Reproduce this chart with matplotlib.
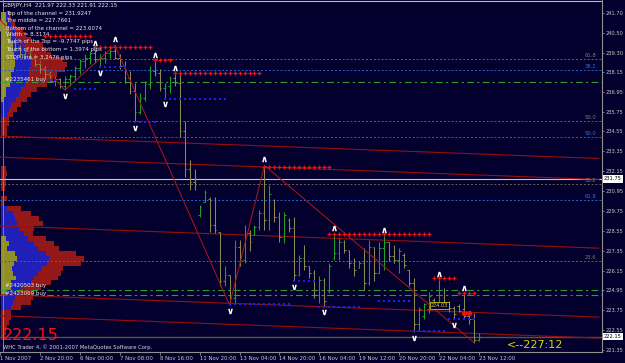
import numpy as np
import matplotlib
matplotlib.use('Agg')
import matplotlib.pyplot as plt

# GBPJPY H4 bars (bar index 0 = 1 Nov 2007 16:00)
opens = [241.00, 240.80, 240.40, 240.00, 239.60, 239.20, 239.40, 239.00, 238.60, 238.30,
         238.00, 237.60, 237.70, 237.30, 237.70, 237.90, 238.40, 238.80, 239.00, 239.30,
         238.90, 239.00, 239.30, 239.40, 239.00, 238.50, 237.80, 237.00, 235.70, 236.60,
         237.40, 238.20, 238.10, 237.20, 237.30, 237.80, 237.50, 234.60, 232.30, 231.50,
         229.50, 230.30, 230.50, 228.90, 228.50, 225.50, 225.90, 224.50, 227.60, 226.80,
         228.40, 228.30, 228.80, 229.60, 229.20, 230.40, 229.40, 228.20, 229.20, 228.70,
         225.90, 226.90, 226.40, 226.00, 224.70, 225.60, 224.90, 226.90, 227.20, 227.90,
         227.40, 226.60, 226.30, 226.60, 225.40, 227.60, 226.00, 227.50, 227.90, 227.00,
         226.80, 227.10, 226.20, 225.40, 222.90, 223.40, 223.80, 224.40, 224.00, 224.20,
         224.00, 223.90, 224.00, 223.80, 223.40, 223.20, 221.95]
highs = [241.30, 241.00, 240.60, 240.20, 239.80, 239.50, 239.60, 239.20, 238.80, 238.50,
         238.20, 237.90, 237.80, 237.90, 238.00, 238.50, 238.90, 239.20, 239.40, 239.55,
         239.20, 239.40, 239.60, 239.75, 239.20, 238.80, 238.20, 237.50, 236.90, 237.60,
         238.50, 238.80, 238.30, 237.50, 237.90, 238.00, 238.00, 235.20, 232.80, 232.30,
         230.10, 231.00, 230.60, 230.60, 228.50, 226.40, 225.90, 228.00, 228.00, 228.90,
         228.60, 228.90, 229.80, 232.50, 231.30, 230.50, 229.70, 229.70, 229.30, 229.40,
         227.10, 227.70, 226.40, 226.20, 225.80, 225.70, 226.60, 228.35, 228.10, 228.00,
         227.40, 226.90, 226.70, 227.50, 228.00, 227.60, 227.90, 228.25, 227.90, 227.70,
         227.50, 227.20, 226.20, 225.70, 223.95, 224.20, 224.85, 224.50, 225.60, 225.10,
         224.30, 224.00, 224.10, 224.75, 223.60, 223.60, 222.40]
lows = [240.60, 240.20, 239.80, 239.40, 239.00, 238.90, 238.90, 238.50, 238.10, 237.80,
        237.60, 237.30, 237.20, 237.05, 237.30, 237.60, 238.00, 238.40, 238.60, 238.70,
        238.45, 238.70, 239.00, 238.90, 238.30, 237.50, 236.80, 235.10, 235.60, 236.40,
        237.10, 237.90, 237.00, 236.55, 236.90, 237.30, 234.20, 231.80, 231.00, 231.00,
        229.40, 230.30, 228.50, 228.40, 225.20, 225.20, 224.07, 224.20, 226.40, 226.60,
        227.30, 228.30, 228.60, 228.60, 228.60, 229.10, 227.90, 227.80, 228.50, 225.50,
        225.80, 226.20, 225.70, 224.50, 224.20, 224.00, 224.80, 226.80, 226.80, 227.20,
        226.30, 225.80, 226.30, 225.00, 225.30, 225.50, 226.00, 226.20, 226.70, 226.60,
        226.00, 226.30, 225.20, 222.45, 222.50, 223.20, 223.60, 223.80, 223.90, 223.80,
        223.65, 223.20, 223.65, 223.20, 222.95, 221.80, 221.90]
closes = [240.80, 240.40, 240.00, 239.60, 239.20, 239.40, 239.00, 238.60, 238.30, 238.00,
          237.60, 237.70, 237.30, 237.70, 237.90, 238.40, 238.80, 239.00, 239.30, 238.90,
          239.00, 239.30, 239.40, 239.00, 238.50, 237.80, 237.00, 235.70, 236.60, 237.40,
          238.20, 238.10, 237.20, 237.30, 237.80, 237.50, 234.60, 232.30, 231.50, 231.40,
          230.00, 230.90, 228.90, 228.60, 225.50, 225.90, 224.50, 227.60, 226.80, 228.40,
          227.90, 228.80, 229.60, 229.20, 230.80, 229.40, 228.20, 229.50, 228.70, 225.90,
          226.90, 226.40, 226.00, 224.70, 225.60, 224.30, 226.40, 227.20, 227.90, 227.40,
          226.60, 226.20, 226.60, 225.40, 227.60, 226.00, 227.50, 227.90, 227.00, 226.80,
          227.30, 226.50, 225.40, 222.90, 223.80, 224.10, 224.60, 224.00, 224.20, 224.00,
          223.90, 223.50, 223.70, 223.40, 223.20, 221.95, 222.15]

date_ticks = [0, 8, 16, 24, 32, 40, 48, 56, 64, 72, 80, 88, 96]
date_labels = ['1 Nov 2007', '2 Nov 20:00', '6 Nov 00:00', '7 Nov 08:00', '8 Nov 16:00',
               '11 Nov 20:00', '13 Nov 04:00', '14 Nov 20:00', '16 Nov 04:00',
               '19 Nov 12:00', '20 Nov 20:00', '22 Nov 04:00', '23 Nov 12:00']
price_ticks = [241.70, 240.50, 239.30, 238.15, 236.95, 235.75, 234.55, 233.35, 232.15,
               230.95, 229.75, 228.55, 227.35, 226.15, 224.95, 223.75, 222.55, 221.35]

# zigzag pivots (bar, price)
zz_bar = [0, 13, 23, 46, 53, 95]
zz_price = [241.30, 237.05, 239.75, 224.07, 232.50, 221.80]

# fractals
frac_up = [19, 23, 31, 35, 53, 67, 77, 88, 93]
frac_dn = [13, 20, 27, 33, 46, 59, 65, 83, 91]

# regression channel, values at bar 0 and bar 120
chan_start = [234.27, 233.00, 228.85, 224.69, 223.42]
chan_end = [232.92, 231.65, 227.50, 223.34, 222.07]

# resistance (red) / support (blue) dotted rows: (first bar, last bar, price)
res_rows = [(9, 18, 240.32), (19, 30, 239.65), (31, 34, 238.87), (35, 52, 238.08),
            (53, 66, 232.40), (66, 86, 228.36), (87, 91, 225.70), (92, 95, 224.80)]
sup_rows = [(8, 11, 237.66), (15, 19, 237.12), (20, 25, 238.45), (27, 31, 235.12),
            (33, 45, 236.51), (46, 58, 224.13), (59, 63, 225.52), (64, 72, 223.95),
            (76, 82, 224.31), (83, 89, 222.52), (90, 95, 223.22)]
stop_bars = [93, 94]
stop_price = 223.59

# fibonacci / order levels
fib_gray = [238.93, 235.18, 231.38, 226.73]
fib_gray_lbl = ['61.8', '50.0', '38.2', '23.6']
fib_blue = [238.26, 234.22, 230.41]
fib_blue_lbl = ['38.2', '50.0', '61.8']
order_lines = [237.54, 224.98, 224.67]
hline_price = 231.68
bid = 222.15

# volume profile rows (price = 242.2 - 0.3*k)
prof_yellow = [0, 0, 5, 5, 6, 8, 8, 9, 12, 12, 13, 14, 14, 13, 10, 10, 9, 5, 5, 3,
               0, 0, 0, 0, 0, 0, 0, 0, 0, 0, 0, 0, 0, 0, 0, 0, 0, 0, 0, 0,
               0, 0, 0, 0, 0, 0, 0, 5, 8, 6, 14, 16, 13, 11, 12, 15, 10, 10, 5, 0,
               0, 0, 0, 0, 0, 0, 0, 0, 0]
prof_blue = [0, 0, 8, 8, 10, 14, 15, 18, 24, 25, 26, 30, 30, 28, 28, 26, 24, 20, 18, 15,
             10, 8, 6, 0, 0, 0, 0, 0, 0, 0, 0, 0, 0, 0, 0, 0, 0, 0, 0, 0,
             0, 6, 12, 14, 16, 18, 23, 27, 33, 37, 45, 48, 46, 40, 37, 33, 30, 20, 17, 14,
             12, 10, 0, 0, 0, 0, 0, 0, 0]
prof_red = [0, 0, 10, 10, 14, 22, 25, 30, 42, 45, 50, 62, 66, 64, 56, 52, 46, 36, 30, 26,
            20, 16, 12, 8, 8, 6, 6, 0, 0, 0, 0, 0, 0, 5, 6, 5, 5, 4, 0, 6,
            3, 20, 30, 38, 42, 33, 32, 45, 53, 58, 75, 83, 80, 62, 60, 57, 50, 40, 33, 32,
            30, 20, 10, 10, 8, 6, 5, 4, 0]

W, H = 625, 363
bg = '#04002E'
fig = plt.figure(figsize=(W / 100, H / 100), dpi=100, facecolor=bg)
ax = fig.add_axes([0, 11 / H, 602 / W, 352 / H], facecolor=bg)
x0, x1 = 0.24, 120.64
ax.set_xlim(x0, x1)
ax.set_ylim(221.23, 242.49)

# volume profile
prof_p = 242.2 - 0.3 * np.arange(len(prof_red))
ax.barh(prof_p, np.array(prof_red) / 5, left=x0, height=0.3, color='#941818', zorder=1)
ax.barh(prof_p, np.array(prof_blue) / 5, left=x0, height=0.3, color='#2020B8', zorder=1)
ax.barh(prof_p, np.array(prof_yellow) / 5, left=x0, height=0.3, color='#909028', zorder=1)

# horizontal levels
for p in fib_gray:
    ax.axhline(p, color='#66664F', lw=0.7, ls=(0, (2, 2)), zorder=2)
for p in fib_blue:
    ax.axhline(p, color='#2466D0', lw=0.7, ls=(0, (2, 2)), zorder=2)
for p in order_lines:
    ax.axhline(p, color='#2E9E2E', lw=0.8, ls=(0, (6, 3, 2, 3)), zorder=2)
ax.axhline(242.43, color='#B8B8C8', lw=0.8, zorder=2)
ax.axhline(hline_price, color='#C8C8C8', lw=0.8, zorder=2)
ax.axhline(bid, color='#55553A', lw=1.0, zorder=2)
ax.axvline(0.55, color='#9090A0', lw=0.6, zorder=2)

# channel
for a, b in zip(chan_start, chan_end):
    ax.plot([0, 120], [a, b], color='#9A0E0E', lw=0.8, zorder=3)

# bars
idx = np.arange(len(closes))
o, h, l, c = map(np.array, (opens, highs, lows, closes))
cols = np.where(c >= o, '#22A022', '#8A8A4E')
ax.vlines(idx, l, h, colors=cols, lw=0.75, zorder=4)
ax.hlines(o, idx - 0.35, idx, colors=cols, lw=0.75, zorder=4)
ax.hlines(c, idx, idx + 0.35, colors=cols, lw=0.75, zorder=4)

# zigzag
ax.plot(zz_bar, zz_price, color='#B01818', lw=0.7, zorder=5)

# support / resistance rows
for a, b, p in res_rows:
    xs = np.arange(a, b + 1)
    ax.scatter(xs, [p] * len(xs), marker='+', s=7, color='#F01010', lw=0.9, zorder=6)
for a, b, p in sup_rows:
    xs = np.arange(a, b + 1)
    ax.scatter(xs, [p] * len(xs), marker='s', s=1.6, color='#1E1EF0', lw=0, zorder=6)
ax.scatter(stop_bars, [stop_price] * len(stop_bars), marker='o', s=8, color='#F01010', zorder=6)

# fractals
ax.scatter(frac_up, h[frac_up] + 0.36, marker=r'$\mathbf{\wedge}$', s=15, color='white', lw=0, zorder=7)
ax.scatter(frac_dn, l[frac_dn] - 0.36, marker=r'$\mathbf{\vee}$', s=15, color='white', lw=0, zorder=7)

# fib labels
for p, t in zip(fib_gray, fib_gray_lbl):
    ax.text(119.5, p + 0.06, t, color='#7C7C66', fontsize=3.8, ha='right', va='bottom', zorder=8)
for p, t in zip(fib_blue, fib_blue_lbl):
    ax.text(119.5, p + 0.06, t, color='#2E72E0', fontsize=3.8, ha='right', va='bottom', zorder=8)

ax.text(86.3, 224.03, '224.03', color='#D8D840', fontsize=3.6, va='center', zorder=8,
        bbox=dict(boxstyle='square,pad=0.15', fc=bg, ec='#C8C800', lw=0.6))

# axes styling
for s in ['top', 'left']:
    ax.spines[s].set_visible(False)
for s in ['right', 'bottom']:
    ax.spines[s].set_color('#909090')
    ax.spines[s].set_linewidth(0.8)
ax.yaxis.tick_right()
ax.set_yticks(price_ticks)
ax.set_yticklabels(['%.2f' % v for v in price_ticks])
ax.set_xticks(date_ticks)
ax.set_xticklabels(date_labels, ha='left')
ax.tick_params(colors='#909090', labelcolor='#C8C8C8', length=2, width=0.6, pad=1)
ax.tick_params(axis='x', labelsize=3.9)
ax.tick_params(axis='y', labelsize=3.7, pad=0.8, length=1.5)

# left texts
info = ['GBPJPY,H4  221.97 222.33 221.91 222.15',
        'Top of the channel = 231.9247',
        'The middle = 227.7661',
        'Bottom of the channel = 223.6074',
        'Width = 8.3174',
        'Touch of the Top = -9.7747 pips',
        'Touch of the bottom = 1.3974 pips',
        'STOP line = 3.2476 pips']
ys = [5, 13, 21, 28, 35, 42, 49, 57]
for i, (t, y) in enumerate(zip(info, ys)):
    fig.text((3 if i == 0 else 6) / W, 1 - y / H, t, color='#E8E8E8', fontsize=4.0, va='center')
fig.text(5 / W, 1 - 79 / H, '#2235461 buy', color='#E8E8E8', fontsize=4.0, va='center')
fig.text(5 / W, 1 - 286 / H, '#2420503 buy', color='#E8E8E8', fontsize=4.0, va='center')
fig.text(5 / W, 1 - 293 / H, '#2423069 buy', color='#E8E8E8', fontsize=4.0, va='center')

fig.text(3 / W, 1 - 335 / H, '222.15', color='#FF1010', fontsize=11.5, va='center')
fig.text(3 / W, 1 - 347.5 / H, 'WHC Trader 4, \u00a9 2001-2007 MetaQuotes Software Corp.',
         color='#D8D8D8', fontsize=3.8, va='center')
fig.text(507 / W, 1 - 345 / H, '<--227:12', color='#D8D800', fontsize=8, va='center')

# price boxes on the axis
for p, t in [(hline_price, '231.75'), (bid, '222.15')]:
    yf = (11 + 352 * (p - 221.23) / (242.49 - 221.23)) / H
    fig.text(604 / W, yf, t, color='black', fontsize=3.7, va='center',
             bbox=dict(boxstyle='square,pad=0.2', fc='white', ec='white', lw=0))

plt.savefig('out.png', dpi=100, facecolor=bg)
